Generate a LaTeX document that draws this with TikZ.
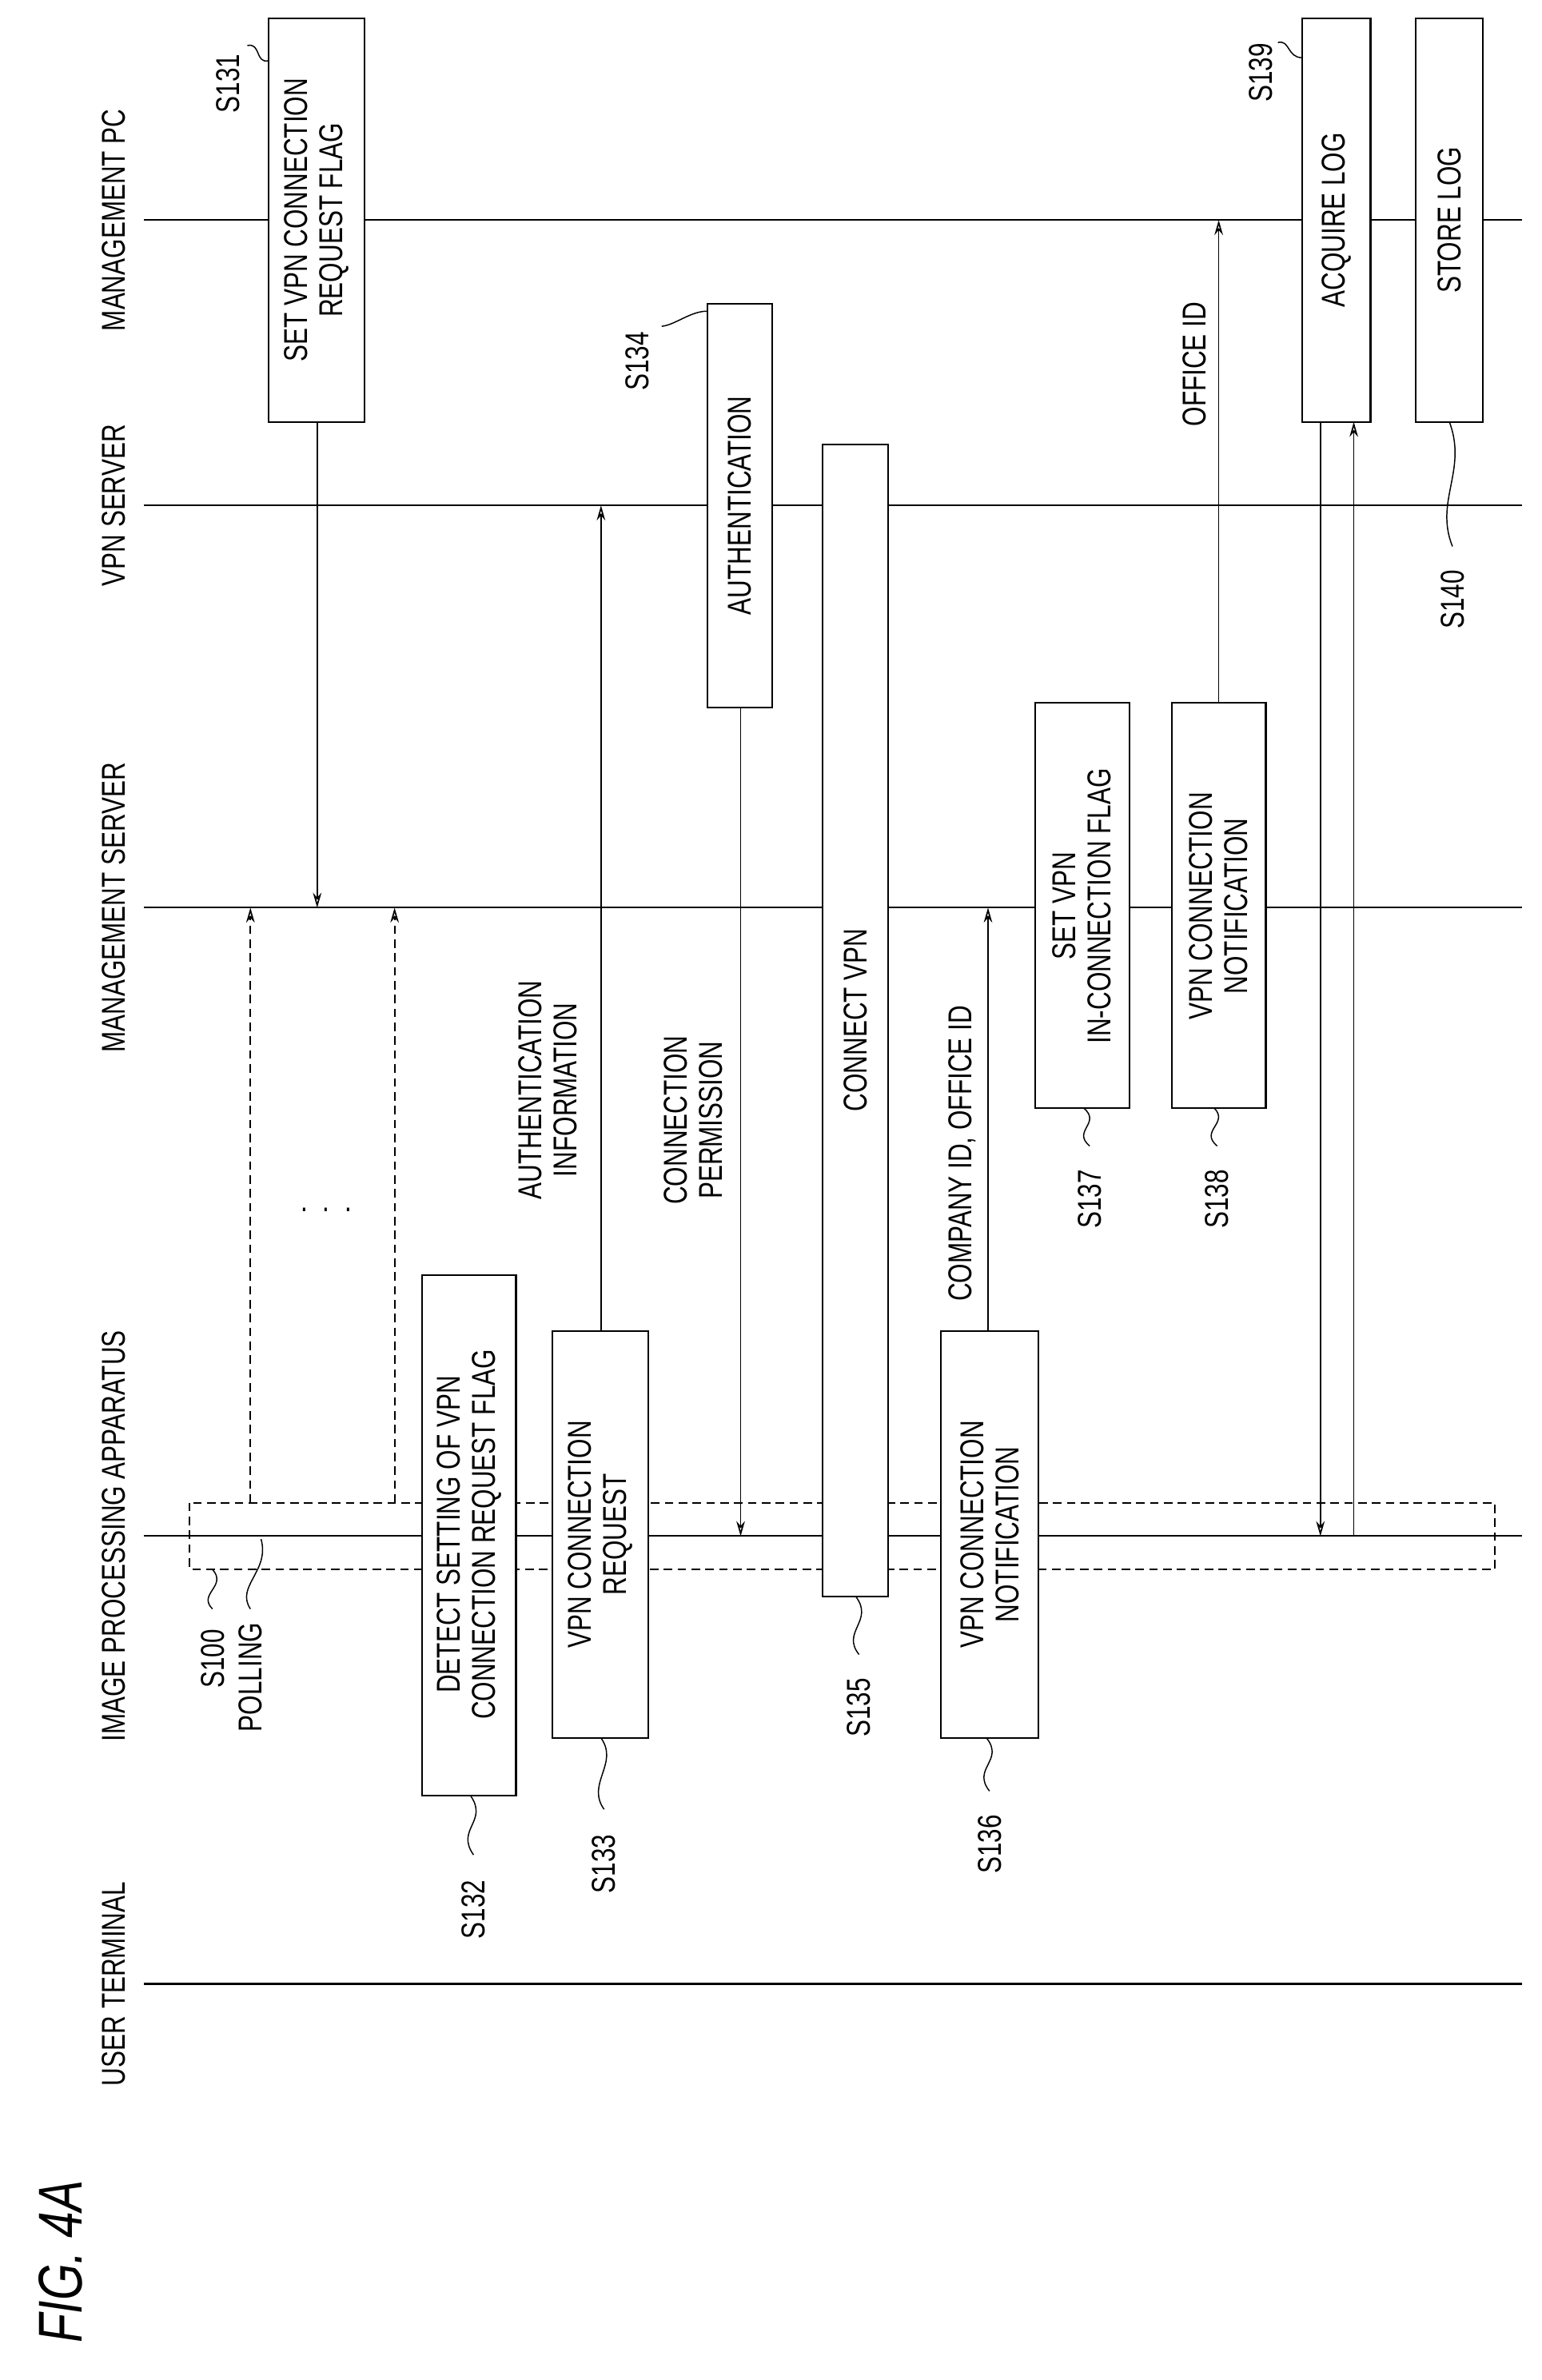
\documentclass[tikz,border=0pt]{standalone}
\usepackage{fontspec}
\setmainfont{Liberation Sans}[FakeStretch=0.76]
\usetikzlibrary{arrows.meta}
\begin{document}
\begin{tikzpicture}[x=0.05cm,y=-0.05cm,
                    line width=1.3pt,
                    font=\fontsize{31}{33}\selectfont]
    \tikzstyle{lifeline}=[line width=1.6pt]
    \tikzstyle{proc}=[draw,line width=1.6pt,fill=white]
    \tikzstyle{msg}=[-{Stealth[length=14pt,width=8pt,open]}]
    \tikzstyle{poll}=[msg,dashed,dash pattern=on 8pt off 5pt]
    \tikzstyle{txt}=[rotate=90,align=center,inner sep=0pt]
    \tikzstyle{lead}=[line width=1.1pt]

    \useasboundingbox (0,0) rectangle (1016,1568);

    % lifelines
    \foreach \name/\yy/\lbl in {pc/145/MANAGEMENT PC, vpn/333/VPN SERVER,
                                ms/598/MANAGEMENT SERVER,
                                ipa/1012/IMAGE PROCESSING APPARATUS,
                                ut/1307/USER TERMINAL}{
        \coordinate (\name-a) at (95,\yy);
        \coordinate (\name-b) at (1003,\yy);
        \draw[lifeline] (\name-a) -- (\name-b);
        \node[txt] (\name-lbl) at (75,\yy) {\lbl};
    }
    \node[txt,font=\fontsize{58}{60}\selectfont\itshape] (fig) at (40,1490) {FIG. 4A};

    % polling box
    \draw[dashed,dash pattern=on 8pt off 5pt] (125,990) rectangle (985,1034);
    \coordinate (p1a) at (165,990);  \coordinate (p1b) at (165,598);
    \coordinate (p2a) at (260,990);  \coordinate (p2b) at (260,598);
    \draw[poll] (p1a) -- (p1b);
    \draw[poll] (p2a) -- (p2b);
    \node (dots) at (215,797) {.\hspace{14pt}.\hspace{14pt}.};

    % process boxes
    \draw[proc] (177,12) rectangle (240,278);
    \node[txt] (s131) at (208.5,145) {SET VPN CONNECTION\\REQUEST FLAG};
    \draw[proc] (278,840) rectangle (340,1183);
    \node[txt] (s132) at (309,1011) {DETECT SETTING OF VPN\\CONNECTION REQUEST FLAG};
    \draw[proc] (364,877) rectangle (427,1145);
    \node[txt] (s133) at (395.5,1011) {VPN CONNECTION\\REQUEST};
    \draw[proc] (466,200) rectangle (509,466);
    \node[txt] (s134) at (487.5,333) {AUTHENTICATION};
    \draw[proc] (542,293) rectangle (585,1052);
    \node[txt] (s135) at (563.5,672) {CONNECT VPN};
    \draw[proc] (620,877) rectangle (684,1145);
    \node[txt] (s136) at (652,1011) {VPN CONNECTION\\NOTIFICATION};
    \draw[proc] (682,463) rectangle (744,730);
    \node[txt] (s137) at (713,597) {SET VPN\\IN-CONNECTION FLAG};
    \draw[proc] (772,463) rectangle (834,730);
    \node[txt] (s138) at (803,597) {VPN CONNECTION\\NOTIFICATION};
    \draw[proc] (858,12) rectangle (903,278);
    \node[txt] (s139) at (880.5,145) {ACQUIRE LOG};
    \draw[proc] (933,12) rectangle (977,278);
    \node[txt] (s140) at (955,145) {STORE LOG};

    % messages
    \coordinate (m1a) at (209,278);  \coordinate (m1b) at (209,598);
    \coordinate (m2a) at (396,877);  \coordinate (m2b) at (396,333);
    \coordinate (m3a) at (488,466);  \coordinate (m3b) at (488,1012);
    \coordinate (m4a) at (651,877);  \coordinate (m4b) at (651,598);
    \coordinate (m5a) at (803,463);  \coordinate (m5b) at (803,145);
    \coordinate (m6a) at (870,278);  \coordinate (m6b) at (870,1012);
    \coordinate (m7a) at (892,1012); \coordinate (m7b) at (892,278);
    \foreach \m in {1,...,7}{ \draw[msg] (m\m a) -- (m\m b); }
    \node[txt] (authinfo) at (361,718) {AUTHENTICATION\\INFORMATION};
    \node[txt] (connperm) at (457,738) {CONNECTION\\PERMISSION};
    \node[txt] (compid) at (634,760) {COMPANY ID, OFFICE ID};
    \node[txt] (offid) at (787,240) {OFFICE ID};

    % step labels
    \node[txt] (l131) at (150,55) {S131};
    \draw[lead] (163,30) .. controls (172,28) and (168,42) .. (177,40);
    \node[txt] (l132) at (312,1258) {S132};
    \draw[lead] (312,1222) .. controls (300,1205) and (322,1200) .. (310,1183);
    \node[txt] (l133) at (398,1228) {S133};
    \draw[lead] (398,1192) .. controls (386,1175) and (408,1162) .. (396,1145);
    \node[txt] (l134) at (420,238) {S134};
    \draw[lead] (436,215) .. controls (445,214) and (455,205) .. (466,205);
    \node[txt] (l135) at (566,1125) {S135};
    \draw[lead] (566,1090) .. controls (554,1075) and (576,1068) .. (564,1052);
    \node[txt] (l136) at (652,1215) {S136};
    \draw[lead] (652,1180) .. controls (640,1165) and (662,1160) .. (650,1145);
    \node[txt] (l137) at (718,790) {S137};
    \draw[lead] (718,755) .. controls (706,745) and (726,740) .. (714,730);
    \node[txt] (l138) at (802,790) {S138};
    \draw[lead] (802,755) .. controls (790,745) and (810,740) .. (800,730);
    \node[txt] (l139) at (831,48) {S139};
    \draw[lead] (842,28) .. controls (850,26) and (848,38) .. (858,38);
    \node[txt] (l140) at (957,395) {S140};
    \draw[lead] (957,360) .. controls (945,330) and (967,310) .. (955,278);
    \node[txt] (l100) at (140,1093) {S100};
    \draw[lead] (140,1060) .. controls (130,1050) and (150,1045) .. (140,1034);
    \node[txt] (lpoll) at (165,1105) {POLLING};
    \draw[lead] (165,1060) .. controls (155,1045) and (178,1035) .. (172,1014);
\end{tikzpicture}
\end{document}
